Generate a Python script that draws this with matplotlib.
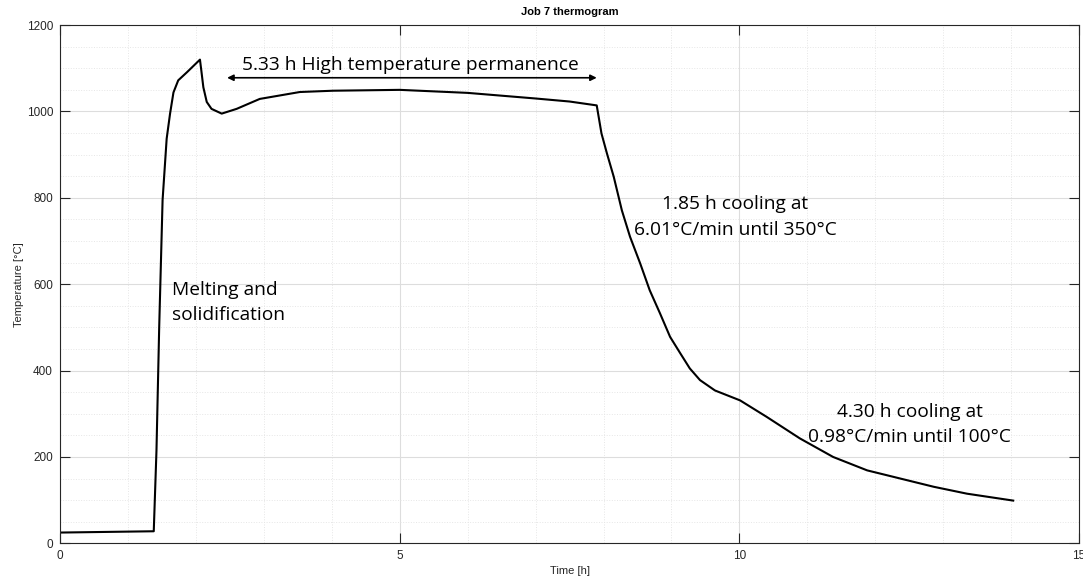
import matplotlib
matplotlib.use('Agg')
import matplotlib.pyplot as plt
from matplotlib.ticker import MultipleLocator

# thermogram (time in h, temperature in C)
time_h = [0.0, 1.38, 1.42, 1.46, 1.51, 1.57, 1.62, 1.67, 1.74, 1.87, 2.06,
          2.08, 2.11, 2.16, 2.23, 2.38, 2.60, 2.94, 3.53, 4.02, 5.0, 6.0,
          7.0, 7.5, 7.90, 7.97, 8.05, 8.15, 8.27, 8.39, 8.54, 8.68, 8.83,
          8.98, 9.13, 9.27, 9.42, 9.64, 10.01, 10.40, 10.89, 11.38, 11.88,
          12.37, 12.86, 13.35, 14.03]
temp_c = [25, 28, 215, 500, 795, 937, 995, 1044, 1072, 1091, 1120,
          1095, 1056, 1022, 1006, 995, 1006, 1029, 1045, 1048, 1050, 1043,
          1030, 1023, 1014, 949, 903, 849, 771, 710, 648, 586, 533,
          478, 440, 405, 378, 354, 331, 293, 243, 200, 169,
          150, 131, 115, 99]

x_ticks = [0, 5, 10, 15]
y_ticks = [0, 200, 400, 600, 800, 1000, 1200]

arrow_start, arrow_end, arrow_level = 2.46, 7.9, 1078
labels = {
    'hold': '5.33 h High temperature permanence',
    'melt': 'Melting and\nsolidification',
    'cool1': '1.85 h cooling at\n6.01°C/min until 350°C',
    'cool2': '4.30 h cooling at\n0.98°C/min until 100°C',
}

plt.rcParams['font.family'] = ['Liberation Sans', 'DejaVu Sans']

fig = plt.figure(figsize=(10.83, 5.83), dpi=100)
ax = fig.add_axes([0.0554, 0.068, 0.941, 0.889])

ax.plot(time_h, temp_c, color='black', linewidth=1.5)

ax.set_xlim(0, 15)
ax.set_ylim(0, 1200)
ax.set_xticks(x_ticks)
ax.set_yticks(y_ticks)
ax.xaxis.set_minor_locator(MultipleLocator(1))
ax.yaxis.set_minor_locator(MultipleLocator(50))
ax.grid(which='major', color='#dddddd', linewidth=0.8)
ax.grid(which='minor', color='#e6e6e6', linewidth=0.7, linestyle=':')
ax.set_axisbelow(True)
ax.tick_params(which='major', direction='in', length=7, width=0.8, top=True, right=True,
               labelsize=8.5, colors='#262626', pad=5)
ax.tick_params(which='minor', length=0)
for s in ax.spines.values():
    s.set_color('#262626')
    s.set_linewidth(0.8)

ax.set_title('Job 7 thermogram', fontsize=8, fontweight='bold', color='#000000', pad=7)
ax.set_xlabel('Time [h]', fontsize=8, color='#262626', labelpad=3)
ax.set_ylabel('Temperature [°C]', fontsize=8, color='#262626', labelpad=2)

ax.annotate('', xy=(arrow_start, arrow_level), xytext=(arrow_end, arrow_level),
            arrowprops=dict(arrowstyle='<|-|>', color='black', lw=1.2,
                            mutation_scale=9, shrinkA=0, shrinkB=0))
font = 'Open Sans'
ax.text(5.15, 1108, labels['hold'], fontsize=13.8, family=font, ha='center', va='center')
ax.text(1.65, 558, labels['melt'], fontsize=13.8, family=font, ha='left', va='center',
        linespacing=1.55)
ax.text(9.94, 755, labels['cool1'], fontsize=13.8, family=font, ha='center', va='center',
        linespacing=1.55)
ax.text(12.51, 275, labels['cool2'], fontsize=13.8, family=font, ha='center', va='center',
        linespacing=1.55)

fig.savefig('out.png', dpi=100)
